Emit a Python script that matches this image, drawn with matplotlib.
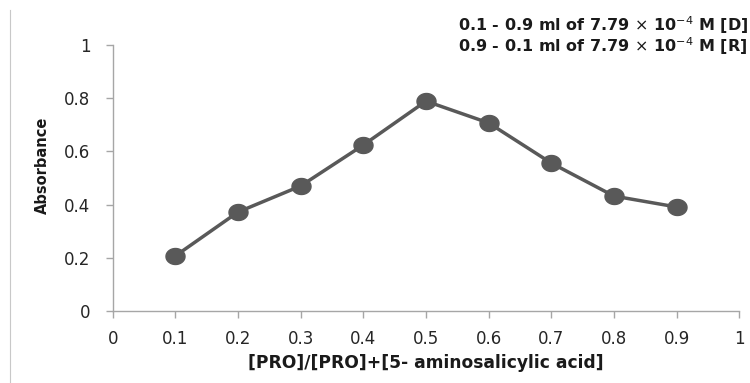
import matplotlib
matplotlib.use("Agg")
import matplotlib.pyplot as plt
from matplotlib.lines import Line2D
from matplotlib.path import Path
import numpy as np

ratio = [0.1, 0.2, 0.3, 0.4, 0.5, 0.6, 0.7, 0.8, 0.9]
absorbance = [0.207, 0.372, 0.470, 0.624, 0.789, 0.707, 0.556, 0.432, 0.391]
x_ticks = [0, 0.1, 0.2, 0.3, 0.4, 0.5, 0.6, 0.7, 0.8, 0.9, 1]
x_tick_labels = ["0", "0.1", "0.2", "0.3", "0.4", "0.5", "0.6", "0.7", "0.8", "0.9", "1"]
y_ticks = [0, 0.2, 0.4, 0.6, 0.8, 1]
y_tick_labels = ["0", "0.2", "0.4", "0.6", "0.8", "1"]

plt.rcParams['font.family'] = ['DejaVu Sans']

fig = plt.figure(figsize=(7.5, 3.83), dpi=100)
ax = fig.add_axes([112.7 / 750, 1 - 311 / 383, 626.6 / 750, 266 / 383])

# slightly wide elliptical marker (reference is horizontally stretched)
t = np.linspace(0, 2 * np.pi, 60)
ell = Path(np.column_stack([1.19 * np.cos(t), np.sin(t)]), closed=True)

col = "#595959"
ax.plot(ratio, absorbance, color=col, lw=2.5, marker=ell, markersize=13.7,
        markerfacecolor=col, markeredgecolor=col, zorder=3)

ax.set_xlim(0, 1)
ax.set_ylim(0, 1)
ax.set_xticks(x_ticks)
ax.set_xticklabels(x_tick_labels)
ax.set_yticks(y_ticks)
ax.set_yticklabels(y_tick_labels)

for s in ['top', 'right']:
    ax.spines[s].set_visible(False)
for s in ['left', 'bottom']:
    ax.spines[s].set_color('#a6a6a6')
    ax.spines[s].set_linewidth(1.0)
ax.tick_params(axis='both', direction='out', length=5, width=1.0, color='#a6a6a6',
               labelsize=12, labelcolor='#262626')
ax.tick_params(axis='y', pad=11)
ax.tick_params(axis='x', pad=9)

ax.set_xlabel("[PRO]/[PRO]+[5- aminosalicylic acid]", fontsize=12.3, fontweight='bold',
              color='#1a1a1a')
ax.xaxis.set_label_coords(0.5, 1 - 363 / 383, transform=fig.transFigure)
ax.xaxis.label.set_va('center')
ax.xaxis.label.set_x(425.5 / 750)
ax.set_ylabel("Absorbance", fontsize=10.5, fontweight='bold', color='#1a1a1a')
ax.yaxis.set_label_coords(42 / 750, 1 - 165 / 383, transform=fig.transFigure)
ax.yaxis.label.set_va('center')

fig.text(0.997, 1 - 25 / 383, r"0.1 - 0.9 ml of 7.79 $\times$ 10$^{-4}$ M [D]", ha='right', va='center',
         fontsize=11.5, fontweight='bold', color='#1a1a1a')
fig.text(0.997, 1 - 46 / 383, r"0.9 - 0.1 ml of 7.79 $\times$ 10$^{-4}$ M [R]", ha='right', va='center',
         fontsize=11.5, fontweight='bold', color='#1a1a1a')

fig.add_artist(Line2D([9.5 / 750, 9.5 / 750], [0.0, 1 - 10 / 383], transform=fig.transFigure,
                      color='#c8c8c8', lw=0.8))

fig.savefig("out.png", dpi=100)
